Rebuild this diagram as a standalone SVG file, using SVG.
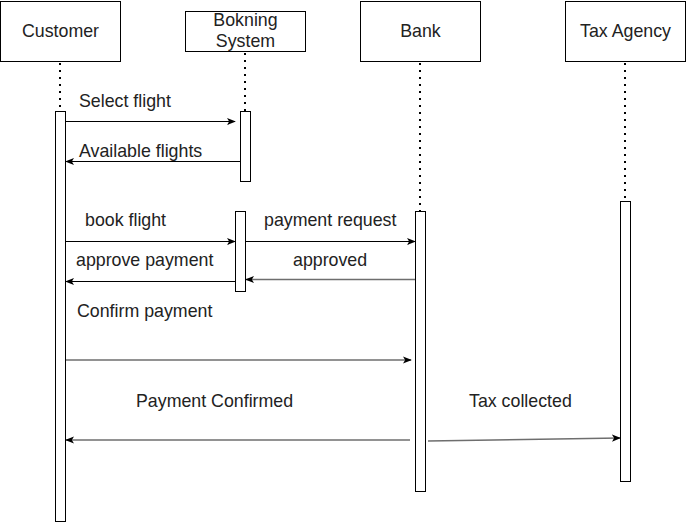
<svg xmlns="http://www.w3.org/2000/svg" width="687" height="522" viewBox="0 0 687 522">
<defs>
<style>
.box{fill:#fff;stroke:#000;stroke-width:1}
.bar{fill:#fff;stroke:#000;stroke-width:1}
.life{stroke:#000;stroke-width:2;stroke-dasharray:2 5;fill:none}
.msg{stroke:#000;stroke-width:1;fill:none;marker-end:url(#ah)}
.msgg{stroke:#6e6e6e;stroke-width:1.5;fill:none;marker-end:url(#ah)}
text{font-family:"Liberation Sans",Arial,sans-serif;font-size:17.8px;fill:#222}
.c{text-anchor:middle}
</style>
<marker id="ah" viewBox="0 0 10 10" refX="9" refY="5" markerWidth="9" markerHeight="9" markerUnits="userSpaceOnUse" orient="auto">
<path d="M0,1 L10,5 L0,9 L2.5,5 Z" fill="#000"/>
</marker>
</defs>
<rect width="687" height="522" fill="#fff"/>
<g id="lifelines">
<line class="life" x1="60" y1="63" x2="60" y2="111"/>
<line class="life" x1="245" y1="53" x2="245" y2="111"/>
<line class="life" x1="420" y1="63" x2="420" y2="211"/>
<line class="life" x1="625" y1="63" x2="625" y2="201"/>
</g>
<g id="customer">
<rect class="box" x="0.5" y="1.5" width="120" height="60"/>
<text class="c" x="60.5" y="37">Customer</text>
<rect class="bar" x="55.5" y="111.5" width="10" height="410"/>
</g>
<g id="bokning">
<rect class="box" x="185.5" y="11.5" width="120" height="40"/>
<text class="c" x="245.5" y="26">Bokning</text>
<text class="c" x="245.5" y="47">System</text>
<rect class="bar" x="240.5" y="111.5" width="10" height="70"/>
<rect class="bar" x="235.5" y="211.5" width="10" height="80"/>
</g>
<g id="bank">
<rect class="box" x="360.5" y="1.5" width="120" height="60"/>
<text class="c" x="420.5" y="37">Bank</text>
<rect class="bar" x="415.5" y="211.5" width="10" height="280"/>
</g>
<g id="taxagency">
<rect class="box" x="565.5" y="1.5" width="120" height="60"/>
<text class="c" x="625.5" y="37">Tax Agency</text>
<rect class="bar" x="620.5" y="201.5" width="10" height="280"/>
</g>
<g id="connectors">
<line class="msg" x1="66" y1="121.5" x2="235" y2="121.5"/>
<line class="msg" x1="240" y1="161.5" x2="66" y2="161.5"/>
<line class="msg" x1="66" y1="241.5" x2="235" y2="241.5"/>
<line class="msg" x1="246" y1="241.5" x2="415" y2="241.5"/>
<line class="msg" x1="235" y1="281.5" x2="66" y2="281.5"/>
<line class="msgg" x1="415" y1="279.5" x2="246" y2="279.5"/>
<line class="msgg" x1="66" y1="360" x2="411" y2="360"/>
<line class="msgg" x1="410" y1="440" x2="66" y2="440"/>
<line class="msgg" x1="428" y1="441" x2="620" y2="438"/>
</g>
<g id="labels">
<text x="79" y="107">Select flight</text>
<text x="79" y="157">Available flights</text>
<text x="85" y="226">book flight</text>
<text x="264" y="226">payment request</text>
<text x="76" y="266">approve payment</text>
<text x="293" y="266">approved</text>
<text x="77" y="317">Confirm payment</text>
<text x="136" y="407">Payment Confirmed</text>
<text x="469" y="407">Tax collected</text>
</g>
</svg>
